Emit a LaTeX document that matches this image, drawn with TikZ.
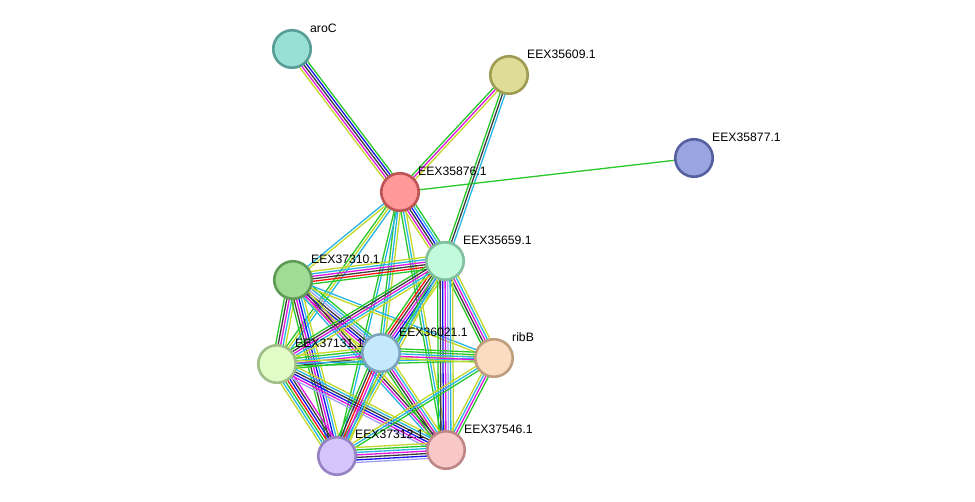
\documentclass[tikz,border=0pt]{standalone}
\usepackage{fontspec}
\setmainfont{Liberation Sans}
\usetikzlibrary{calc}
\pgfdeclarelayer{bg}
\pgfsetlayers{bg,main}
\definecolor{cG}{RGB}{40,200,40}
\definecolor{cR}{RGB}{250,20,20}
\definecolor{cB}{RGB}{20,20,240}
\definecolor{cK}{RGB}{60,60,60}
\definecolor{cM}{RGB}{225,20,225}
\definecolor{cC}{RGB}{40,180,230}
\definecolor{cY}{RGB}{195,215,40}
\definecolor{cP}{RGB}{160,160,250}
\newcommand\stredge[3]{%
  \begin{pgfonlayer}{bg}
  \foreach \c [count=\n] in {#3} {\xdef\nnlines{\n}}
  \foreach \c [count=\i] in {#3} {
    \pgfmathsetmacro\o{(\i-(\nnlines+1)/2)*2.5}
    \draw[\c, line width=1.3pt] ($(#1.center)!\o pt!90:(#2.center)$) -- ($(#2.center)!\o pt!-90:(#1.center)$);
  }
  \end{pgfonlayer}}
\tikzset{
  gnode/.style={circle, minimum size=37.5pt, inner sep=0pt, line width=2.6pt},
  lbl/.style={anchor=west, inner sep=0pt, font=\fontsize{12.2}{14}\selectfont}
}
\begin{document}
\begin{tikzpicture}[x=1pt,y=-1pt]
\useasboundingbox (0,0) rectangle (975,501);
\node[gnode, fill={rgb,255:red,152;green,224;blue,214}, draw={rgb,255:red,88;green,158;blue,150}] (aroC) at (292,49) {};
\node[gnode, fill={rgb,255:red,222;green,220;blue,150}, draw={rgb,255:red,158;green,156;blue,82}] (n609) at (509,75) {};
\node[gnode, fill={rgb,255:red,154;green,164;blue,224}, draw={rgb,255:red,86;green,96;blue,160}] (n877) at (694,158) {};
\node[gnode, fill={rgb,255:red,255;green,152;blue,152}, draw={rgb,255:red,190;green,84;blue,84}] (n876) at (400,192) {};
\node[gnode, fill={rgb,255:red,194;green,250;blue,220}, draw={rgb,255:red,128;green,192;blue,158}] (n659) at (445,261) {};
\node[gnode, fill={rgb,255:red,160;green,220;blue,148}, draw={rgb,255:red,96;green,156;blue,88}] (n310) at (293,280) {};
\node[gnode, fill={rgb,255:red,226;green,252;blue,200}, draw={rgb,255:red,160;green,190;blue,136}] (n131) at (277,364) {};
\node[gnode, fill={rgb,255:red,196;green,232;blue,252}, draw={rgb,255:red,124;green,164;blue,188}] (n021) at (381,353) {};
\node[gnode, fill={rgb,255:red,252;green,220;blue,192}, draw={rgb,255:red,190;green,158;blue,126}] (ribB) at (494,358) {};
\node[gnode, fill={rgb,255:red,212;green,196;blue,252}, draw={rgb,255:red,150;green,130;blue,194}] (n312) at (337,456) {};
\node[gnode, fill={rgb,255:red,248;green,200;blue,200}, draw={rgb,255:red,190;green,134;blue,134}] (n546) at (446,450) {};
\node[lbl] (laroC) at (310,28) {aroC};
\node[lbl] (l609) at (527,54) {EEX35609.1};
\node[lbl] (l877) at (712,137) {EEX35877.1};
\node[lbl] (l876) at (418,171) {EEX35876.1};
\node[lbl] (l659) at (463,240) {EEX35659.1};
\node[lbl] (l310) at (311,259) {EEX37310.1};
\node[lbl] (l131) at (295,343) {EEX37131.1};
\node[lbl] (l021) at (399,332) {EEX36021.1};
\node[lbl] (lribB) at (512,337) {ribB};
\node[lbl] (l312) at (355,434) {EEX37312.1};
\node[lbl] (l546) at (464,429) {EEX37546.1};
\stredge{aroC}{n876}{cY,cM,cK,cB,cG}
\stredge{n609}{n876}{cG,cM,cY}
\stredge{n609}{n659}{cG,cK,cC}
\stredge{n877}{n876}{cG}
\stredge{n876}{n659}{cY,cM,cK,cB,cC,cG}
\stredge{n876}{n310}{cC,cY}
\stredge{n876}{n131}{cG,cY,cC}
\stredge{n876}{n021}{cG,cC,cY}
\stredge{n876}{n312}{cG,cC}
\stredge{n876}{n546}{cG,cC,cY}
\stredge{n310}{n659}{cG,cR,cK,cM,cC,cY}
\stredge{n310}{n021}{cY,cM,cB,cK,cP,cC,cG}
\stredge{n310}{n131}{cG,cK,cM,cC,cY}
\stredge{n310}{n312}{cG,cK,cM,cB,cC,cY}
\stredge{n310}{n546}{cC,cM,cK,cY}
\stredge{n310}{ribB}{cY,cC}
\stredge{n659}{n021}{cG,cR,cK,cM,cB,cC,cY}
\stredge{n659}{n131}{cG,cK,cM,cC,cY}
\stredge{n659}{ribB}{cG,cK,cM,cC,cY}
\stredge{n659}{n546}{cG,cK,cB,cM,cP,cC,cY}
\stredge{n659}{n312}{cG,cC,cY}
\stredge{n131}{n021}{cG,cK,cM,cC,cG,cY}
\stredge{n131}{ribB}{cG,cC,cY}
\stredge{n131}{n312}{cY,cC,cG,cR,cB,cK,cM}
\stredge{n131}{n546}{cP,cM,cB,cK,cC,cY}
\stredge{n021}{ribB}{cY,cM,cC,cG,cG}
\stredge{n021}{n312}{cG,cK,cR,cM,cC,cY}
\stredge{n021}{n546}{cG,cK,cM,cC,cY}
\stredge{ribB}{n546}{cY,cC,cM,cG}
\stredge{ribB}{n312}{cY,cC,cG}
\stredge{n312}{n546}{cP,cB,cK,cM,cC,cG,cY}
\end{tikzpicture}
\end{document}
